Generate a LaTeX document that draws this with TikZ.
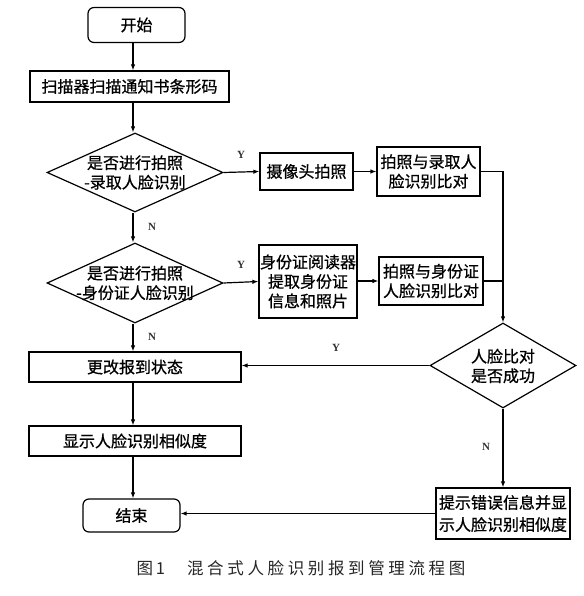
\documentclass[tikz,border=0pt]{standalone}
\usepackage{fontspec}
\usetikzlibrary{shapes.geometric,arrows.meta}
\newfontfamily\cjk[FakeBold=0.8]{Noto Sans CJK SC}
\newfontfamily\capfont[LetterSpace=22]{Noto Sans CJK SC}
\setmainfont{Liberation Serif}
\begin{document}
\begin{tikzpicture}[x=1pt,y=-1pt,
  line width=1.2pt,
  arr/.style={-{Latex[length=6pt,width=4.5pt]}},
  txt/.style={font=\cjk\fontsize{16}{19.5}\selectfont,align=center,inner sep=0pt},
  box/.style={draw,rectangle,inner sep=0pt,font=\cjk\fontsize{16}{19.5}\selectfont,align=center},
  term/.style={box,rounded corners=6pt},
  dia/.style={draw,diamond,inner sep=0pt},
  yn/.style={font=\bfseries\fontsize{11}{13}\selectfont,text=black!80,inner sep=0pt}]
\useasboundingbox (0,0) rectangle (583,596);
\fill[white] (0,0) rectangle (583,596);
\coordinate (mc) at (133,0);
% nodes
\node[term,minimum width=97pt,minimum height=35pt] (start) at (136.5,25) {开始};
\node[box,minimum width=199pt,minimum height=31pt] (scan) at (129.5,86.5) {扫描器扫描通知书条形码};
\node[dia,minimum width=176pt,minimum height=79pt] (d1) at (135,172.5) {};
\node[txt] (d1t) at (135,172.5) {是否进行拍照\\-录取人脸识别};
\node[box,minimum width=93pt,minimum height=37pt] (cam) at (306.5,171.5) {摄像头拍照};
\node[box,minimum width=103pt,minimum height=49pt] (cmp1) at (428.5,171.5) {拍照与录取人\\脸识别比对};
\node[dia,minimum width=176pt,minimum height=80pt] (d2) at (135,283) {};
\node[txt] (d2t) at (135,283) {是否进行拍照\\-身份证人脸识别};
\node[box,minimum width=98pt,minimum height=73pt] (id) at (308,281.5) {身份证阅读器\\提取身份证\\信息和照片};
\node[box,minimum width=104pt,minimum height=48pt] (cmp2) at (431,281) {拍照与身份证\\人脸识别比对};
\node[box,minimum width=212pt,minimum height=30pt] (status) at (135,367) {更改报到状态};
\node[box,minimum width=212pt,minimum height=30pt] (show) at (135,441) {显示人脸识别相似度};
\node[term,minimum width=97pt,minimum height=33pt] (end) at (131.5,515.5) {结束};
\node[dia,minimum width=146pt,minimum height=85pt] (d3) at (503,365.5) {};
\node[txt] (d3t) at (503,366) {人脸比对\\是否成功};
\node[box,minimum width=134pt,minimum height=51pt,font=\cjk\fontsize{16}{22}\selectfont] (err) at (503,513.5) {提示错误信息并显\\示人脸识别相似度};
% labels
\node[yn] (y1) at (241,155) {Y};
\node[yn] (n1) at (152,227) {N};
\node[yn] (y2) at (241,265) {Y};
\node[yn] (n2) at (152,337) {N};
\node[yn] (y3) at (336,348) {Y};
\node[yn] (n3) at (486,447) {N};
% caption
\node[font=\capfont\fontsize{16.5}{19}\selectfont,text=black!85,inner sep=0pt] (cap) at (301,568) {图\,1\hspace{22pt}混合式人脸识别报到管理流程图};
% connectors
\draw[arr] (start.south -| mc) -- (scan.north -| mc);
\draw[arr] (scan.south -| mc) -- (d1.north -| mc);
\draw[arr] (d1.east) -- (cam.west);
\draw[arr] (cam.east) -- (cmp1.west);
\draw[arr] (cmp1.east) -| (d3.north);
\draw (cmp2.east) -- (cmp2.east -| d3.north);
\draw[arr] (d1.south -| mc) -- (d2.north -| mc);
\draw[arr] (d2.east) -- (id.west);
\draw[arr] (id.east |- cmp2.west) -- (cmp2.west);
\draw[arr] (d2.south -| mc) -- (status.north -| mc);
\draw[arr] (d3.west) -- (status.east |- d3.west);
\draw[arr] (status.south -| mc) -- (show.north -| mc);
\draw[arr] (show.south -| mc) -- (end.north -| mc);
\draw[arr] (d3.south) -- (err.north);
\draw[arr] (err.west) -- (end.east |- err.west);
\end{tikzpicture}
\end{document}
